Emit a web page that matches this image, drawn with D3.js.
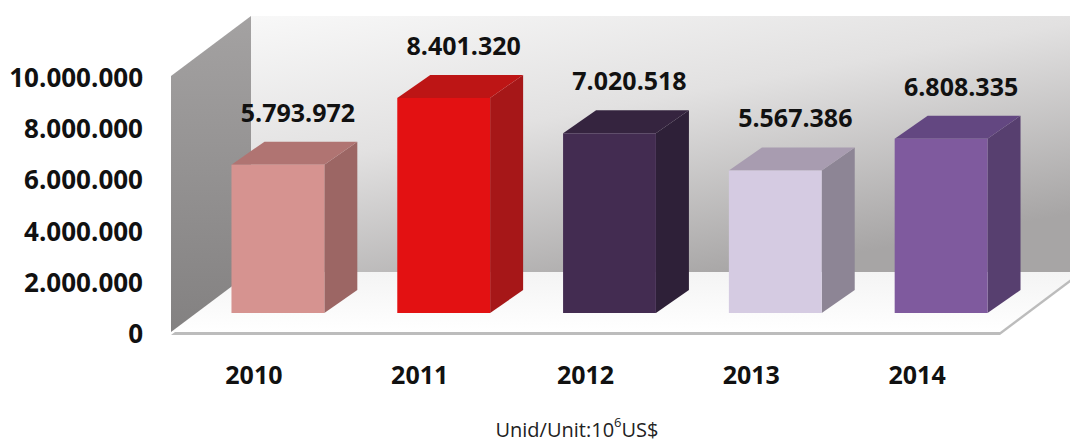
<!DOCTYPE html>
<html>
<head>
<meta charset="utf-8">
<script src="https://cdn.jsdelivr.net/npm/d3@7"></script>
<style>
  body { margin: 0; background: #fff; }
  svg text { font-family: "Open Sans", "Noto Sans", sans-serif; }
</style>
</head>
<body>
<svg id="chart" width="1070" height="441"></svg>
<script>
// data
const years = ["2010", "2011", "2012", "2013", "2014"];
const values = [5793972, 8401320, 7020518, 5567386, 6808335];
const valueLabels = ["5.793.972", "8.401.320", "7.020.518", "5.567.386", "6.808.335"];
const ticks = [0, 2000000, 4000000, 6000000, 8000000, 10000000];
const tickLabels = ["0", "2.000.000", "4.000.000", "6.000.000", "8.000.000", "10.000.000"];

// colours per bar: front, top, side
const palette = [
    ["#d69390", "#b07472", "#9c6664"],
    ["#e31112", "#bd1515", "#a61718"],
    ["#432c51", "#35243f", "#2e2038"],
    ["#d5cbe2", "#a89cb0", "#8d8595"],
    ["#7f5a9e", "#634781", "#573f6f"]
];

let svg = d3.select("#chart");

let front = { left: 171, right: 1000, base: 332 };
let wallDepth = { dx: 80, dy: -60 };   // floor front edge to back wall
let barInset = { dx: 24, dy: -19 };    // floor front edge to bar front face
let barDepth = { dx: 33, dy: -23 };    // bar thickness

let x = d3.scaleBand()
    .domain(years)
    .range([front.left, front.right])
    .paddingInner(0.44)
    .paddingOuter(0.22);

let y = d3.scaleLinear()
    .domain([0, 10000000])
    .range([front.base, front.base - 256]);

let defs = svg.append("defs");

let backGrad = defs.append("linearGradient")
    .attr("id", "backWall")
    .attr("x1", 0).attr("y1", 0)
    .attr("x2", 0.6).attr("y2", 1);
backGrad.append("stop").attr("offset", 0).attr("stop-color", "#f8f8f8");
backGrad.append("stop").attr("offset", 0.45).attr("stop-color", "#e2e1e1");
backGrad.append("stop").attr("offset", 1).attr("stop-color", "#a7a5a5");

let sideGrad = defs.append("linearGradient")
    .attr("id", "sideWall")
    .attr("x1", 0).attr("y1", 0)
    .attr("x2", 0).attr("y2", 1);
sideGrad.append("stop").attr("offset", 0).attr("stop-color", "#a4a2a2");
sideGrad.append("stop").attr("offset", 1).attr("stop-color", "#838181");

let floorGrad = defs.append("linearGradient")
    .attr("id", "floor")
    .attr("x1", 0).attr("y1", 0)
    .attr("x2", 0).attr("y2", 1);
floorGrad.append("stop").attr("offset", 0).attr("stop-color", "#f4f4f4");
floorGrad.append("stop").attr("offset", 1).attr("stop-color", "#ffffff");

let top10 = y(10000000);
let backLeft = front.left + wallDepth.dx;
let backBase = front.base + wallDepth.dy;

// back wall
svg.append("rect")
    .attr("x", backLeft)
    .attr("y", top10 + wallDepth.dy)
    .attr("width", 1070 - backLeft + 20)
    .attr("height", backBase - (top10 + wallDepth.dy))
    .attr("fill", "url(#backWall)");

// floor with a thin edge
let floorPts = [
    [front.left, front.base],
    [front.right, front.base],
    [front.right + wallDepth.dx, backBase],
    [backLeft, backBase]
];
svg.append("polygon")
    .attr("points", floorPts.map(p => [p[0], p[1] + 3].join(",")).join(" "))
    .attr("fill", "#bcbcbc");
svg.append("polygon")
    .attr("points", floorPts.map(p => p.join(",")).join(" "))
    .attr("fill", "url(#floor)");

// side wall
let sidePts = [
    [front.left, front.base],
    [front.left, top10],
    [backLeft, top10 + wallDepth.dy],
    [backLeft, backBase]
];
svg.append("polygon")
    .attr("points", sidePts.map(p => p.join(",")).join(" "))
    .attr("fill", "url(#sideWall)");

// bars
let bars = svg.append("g").selectAll("g")
    .data(years.map((d, i) => ({ year: d, value: values[i], label: valueLabels[i], c: palette[i] })))
    .join("g");

function barGeom(d) {
    let x0 = x(d.year) + barInset.dx;
    let x1 = x0 + x.bandwidth();
    let y0 = y(0) + barInset.dy;
    let y1 = y(d.value) + barInset.dy;
    return { x0, x1, y0, y1 };
}

bars.append("polygon")
    .attr("points", d => {
        let g = barGeom(d);
        return [[g.x1, g.y0], [g.x1, g.y1], [g.x1 + barDepth.dx, g.y1 + barDepth.dy],
            [g.x1 + barDepth.dx, g.y0 + barDepth.dy]].map(p => p.join(",")).join(" ");
    })
    .attr("fill", d => d.c[2]);

bars.append("polygon")
    .attr("points", d => {
        let g = barGeom(d);
        return [[g.x0, g.y1], [g.x1, g.y1], [g.x1 + barDepth.dx, g.y1 + barDepth.dy],
            [g.x0 + barDepth.dx, g.y1 + barDepth.dy]].map(p => p.join(",")).join(" ");
    })
    .attr("fill", d => d.c[1]);

bars.append("rect")
    .attr("x", d => barGeom(d).x0)
    .attr("y", d => barGeom(d).y1)
    .attr("width", x.bandwidth())
    .attr("height", d => barGeom(d).y0 - barGeom(d).y1)
    .attr("fill", d => d.c[0]);

// value labels
bars.append("text")
    .text(d => d.label)
    .attr("x", d => barGeom(d).x0 + x.bandwidth() / 2 + 20)
    .attr("y", d => barGeom(d).y1 - 53)
    .attr("text-anchor", "middle")
    .attr("dominant-baseline", "central")
    .attr("font-size", 25)
    .attr("font-weight", "bold")
    .attr("fill", "#111");

// y tick labels
svg.append("g").selectAll("text")
    .data(ticks)
    .join("text")
    .text((d, i) => tickLabels[i])
    .attr("x", 143)
    .attr("y", d => y(d) + 1)
    .attr("text-anchor", "end")
    .attr("dominant-baseline", "central")
    .attr("font-size", 26)
    .attr("font-weight", "bold")
    .attr("fill", "#111");

// x labels
svg.append("g").selectAll("text")
    .data(years)
    .join("text")
    .text(d => d)
    .attr("x", d => x(d) + x.bandwidth() / 2)
    .attr("y", 374)
    .attr("text-anchor", "middle")
    .attr("dominant-baseline", "central")
    .attr("font-size", 25)
    .attr("font-weight", "bold")
    .attr("fill", "#111");

// unit note
let unit = svg.append("text")
    .attr("x", 577)
    .attr("y", 429)
    .attr("text-anchor", "middle")
    .attr("dominant-baseline", "central")
    .attr("font-size", 20)
    .attr("fill", "#222");
unit.append("tspan").text("Unid/Unit:10");
unit.append("tspan").text("6").attr("font-size", 13).attr("dy", -7);
unit.append("tspan").text("US$").attr("dy", 7);
</script>
</body>
</html>
